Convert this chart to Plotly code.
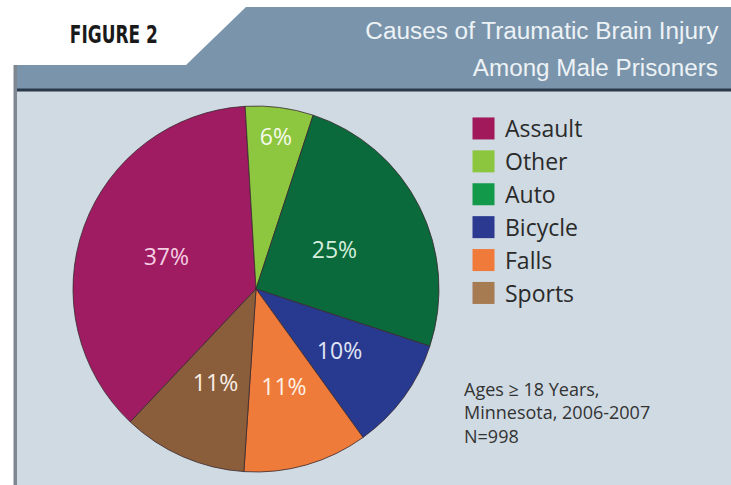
import json
import plotly.graph_objects as go

# ---- data ----
causes = ["Assault", "Other", "Auto", "Bicycle", "Falls", "Sports"]
percents = [37, 6, 25, 10, 11, 11]
slice_colors = ["#A01C62", "#8DC63F", "#0B6A3B", "#283A8F", "#EE7B3A", "#8B5E3B"]
legend_colors = ["#A2195B", "#8CC63F", "#12994A", "#2B3990", "#F07A3A", "#A67B52"]
label_colors = ["#F4CFE2", "#F5FAEB", "#D5EEDD", "#E0E4F5", "#FFF1E6", "#F8EFE6"]
outer_labels = ["37%", "6%", "", "", "", ""]       # labels placed by the full-size pie
mid_labels = ["", "", "25%", "", "", ""]           # labels placed by a slightly smaller transparent pie
inner_labels = ["", "", "", "10%", "11%", "11%"]   # labels placed by the inner transparent pie
title_lines = ["Causes of Traumatic Brain Injury", "Among Male Prisoners"]
figure_tag = "FIGURE 2"
note_lines = ["Ages ≥ 18 Years,", "Minnesota, 2006-2007", "N=998"]

W, H = 731, 485


def px(x):
    return x / W


def py(y):
    return 1 - y / H


cx, cy, R = 256, 289, 183
start_angle = 223.4
label_font = "Open Sans, Noto Sans, sans-serif"

fig = go.Figure()


def add_pie(texts, radius, visible_fill):
    fig.add_trace(go.Pie(
        labels=causes,
        values=percents,
        sort=False,
        direction="clockwise",
        rotation=start_angle,
        marker=dict(colors=slice_colors if visible_fill else ["rgba(0,0,0,0)"] * len(causes),
                    line=dict(color="#3a2a30", width=0.8 if visible_fill else 0)),
        text=texts,
        textinfo="text",
        textposition="inside",
        insidetextorientation="horizontal",
        textfont=dict(family=label_font, size=23, color=label_colors),
        hoverinfo="label+percent" if visible_fill else "skip",
        domain=dict(x=[px(cx - radius), px(cx + radius)], y=[py(cy + radius), py(cy - radius)]),
        showlegend=visible_fill,
    ))


add_pie(outer_labels, R, True)
add_pie(mid_labels, R * 0.82, False)
add_pie(inner_labels, R * 0.74, False)

shapes = []
shapes.append(dict(type="rect", xref="paper", yref="paper", x0=px(14), x1=1, y0=0, y1=py(90),
                   fillcolor="#CFDAE3", line=dict(width=0), layer="below"))
path = "M {},{} L {},{} L {},{} L {},{} L {},{} L {},{} Z".format(
    px(14), py(65), px(186), py(65), px(246), py(7), px(731), py(7), px(731), py(89), px(14), py(89))
shapes.append(dict(type="path", xref="paper", yref="paper", path=path,
                   fillcolor="#7A95AB", line=dict(width=0), layer="below"))
shapes.append(dict(type="rect", xref="paper", yref="paper", x0=px(14), x1=1, y0=py(91.5), y1=py(88.5),
                   fillcolor="#2A3A4A", line=dict(width=0), layer="below"))
shapes.append(dict(type="rect", xref="paper", yref="paper", x0=px(13.5), x1=px(17), y0=0, y1=py(65),
                   fillcolor="#7F8890", line=dict(width=0), layer="below"))

annotations = [
    dict(text=figure_tag, x=px(114), y=py(35), xref="paper", yref="paper", xanchor="center", yanchor="middle",
         showarrow=False, font=dict(family="DejaVu Sans, sans-serif", size=25, color="#1a1a1a", weight="bold")),
    dict(text=title_lines[0], x=px(541.5), y=py(31), xref="paper", yref="paper", xanchor="center",
         yanchor="middle", showarrow=False,
         font=dict(family="Liberation Sans Narrow, Liberation Sans, sans-serif", size=23, color="#EDF2F6")),
    dict(text=title_lines[1], x=px(595.5), y=py(68), xref="paper", yref="paper", xanchor="center",
         yanchor="middle", showarrow=False,
         font=dict(family="Liberation Sans Narrow, Liberation Sans, sans-serif", size=23, color="#EDF2F6")),
    dict(text="<br>".join(note_lines), x=px(462), y=py(412), xref="paper", yref="paper", xanchor="left",
         yanchor="middle", align="left", showarrow=False,
         font=dict(family="Open Sans, Noto Sans, sans-serif", size=18, color="#333333")),
]

fig.update_layout(
    width=W, height=H,
    margin=dict(l=0, r=0, t=0, b=0),
    paper_bgcolor="white",
    plot_bgcolor="rgba(0,0,0,0)",
    shapes=shapes,
    annotations=annotations,
    legend=dict(x=px(462), y=py(107), xanchor="left", yanchor="top",
                bgcolor="rgba(0,0,0,0)",
                font=dict(family="Open Sans, Noto Sans, sans-serif", size=23, color="#2a2a2a"),
                itemwidth=33, tracegroupgap=0),
)

post = """
document.body.style.margin = '0';
var gd = document.getElementById('{plot_id}');
var widths = {'FIGURE 2': 88, 'Causes of Traumatic Brain Injury': 353, 'Among Male Prisoners': 245};
var legendColors = LEGEND_COLORS;
function tweak() {
  document.querySelectorAll('text.annotation-text').forEach(function (t) {
    var w = widths[t.textContent];
    if (w) { t.setAttribute('textLength', w); t.setAttribute('lengthAdjust', 'spacingAndGlyphs'); }
  });
  document.querySelectorAll('path.legendpie').forEach(function (p, i) {
    p.setAttribute('d', 'M11,11H-11V-11H11Z');
    if (i < legendColors.length) { p.style.fill = legendColors[i]; p.style.stroke = 'none'; }
  });
}
tweak();
gd.on('plotly_afterplot', tweak);
""".replace("LEGEND_COLORS", json.dumps(legend_colors))

fig.write_html("out.html", post_script=post, config={"displayModeBar": False})
